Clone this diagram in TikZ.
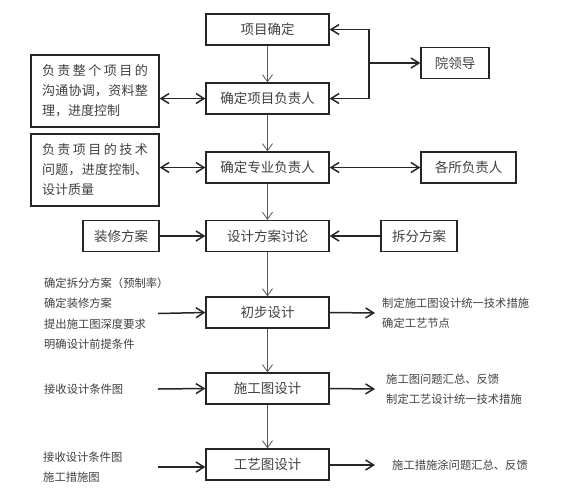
\documentclass[tikz,border=0pt]{standalone}
\usepackage{fontspec}
\newfontfamily\cjk{Noto Sans CJK SC}
\usetikzlibrary{arrows.meta}
\XeTeXlinebreaklocale "zh"
\XeTeXlinebreakskip=0pt plus 3pt

\begin{document}
\begin{tikzpicture}[
                x=1pt,y=-1pt,
                stepbox/.style={draw=black!85,line width=1.3pt,text=black!75,
                  font=\cjk\fontsize{13.5}{16}\selectfont,
                  minimum width=123pt,minimum height=31pt,inner sep=0pt},
                dutybox/.style={draw=black!85,line width=1.3pt,text=black!75,
                  font=\cjk\fontsize{13}{20}\selectfont,
                  text width=106pt,align=justify,
                  minimum height=72pt,inner xsep=11pt,inner ysep=0pt},
                note/.style={text=black!75,font=\cjk\fontsize{11.3}{20.3}\selectfont,
                  align=left,inner sep=0pt,anchor=west},
                flow/.style={-{Straight Barb[length=7pt,width=10pt]},draw=black!65,line width=0.8pt},
                link/.style={-{Straight Barb[length=8pt,width=10pt]},draw=black!85,line width=1.5pt},
                both/.style={{Straight Barb[length=8pt,width=10pt]}-{Straight Barb[length=8pt,width=10pt]},draw=black!85,line width=1.5pt}]

                    \useasboundingbox (0,0) rectangle (576,488);

                    % main column
                    \node[stepbox] (ProjectSet) at (267.5,29.5) {项目确定}; % 1
                    \node[stepbox] (ProjectLead) at (267.5,98.5) {确定项目负责人}; % 2
                    \node[stepbox] (SpecLead) at (267.5,167.5) {确定专业负责人}; % 3
                    \node[stepbox] (Discuss) at (267.5,236) {设计方案讨论}; % 4
                    \node[stepbox] (Prelim) at (267.5,312.5) {初步设计}; % 5
                    \node[stepbox] (Construct) at (267.5,388.5) {施工图设计}; % 6
                    \node[stepbox] (Craft) at (267.5,464.5) {工艺图设计}; % 7

                    \draw[flow] (ProjectSet) to (ProjectLead);
                    \draw[flow] (ProjectLead) to (SpecLead);
                    \draw[flow] (SpecLead) to (Discuss);
                    \draw[flow] (Discuss) to (Prelim);
                    \draw[flow] (Prelim) to (Construct);
                    \draw[flow] (Construct) to (Craft);

                    % left and right boxes
                    \node[dutybox] (DutyA) at (95,91) {负责整个项目的\linebreak 沟通协调，资料整\linebreak 理，进度控制};
                    \node[dutybox] (DutyB) at (95,170) {负责项目的技术\linebreak 问题，进度控制、\linebreak 设计质量};
                    \node[stepbox,minimum width=68pt] (Leader) at (455,63) {院领导};
                    \node[stepbox,minimum width=95pt] (Heads) at (468.5,167.5) {各所负责人};
                    \node[stepbox,minimum width=76pt] (Decor) at (121,236) {装修方案};
                    \node[stepbox,minimum width=76pt] (Split) at (419,236) {拆分方案};

                    \coordinate (Joint) at (369,63);
                    \draw[both] (ProjectSet.east) -- (Joint |- ProjectSet.east) -- (Joint |- ProjectLead.east) -- (ProjectLead.east);
                    \draw[link] (Joint) -- (Leader.west);
                    \draw[both] (DutyA.east |- ProjectLead.west) -- (ProjectLead.west);
                    \draw[both] (DutyB.east |- SpecLead.west) -- (SpecLead.west);
                    \draw[both] (SpecLead.east) -- (Heads.west);
                    \draw[link] (Decor.east) -- (Discuss.west);
                    \draw[link] (Split.west) -- (Discuss.east);

                    % inputs
                    \node[note] (InputA) at (44,313.5) {确定拆分方案（预制率）\\确定装修方案\\提出施工图深度要求\\明确设计前提条件};
                    \node[note] (InputB) at (44,389) {接收设计条件图};
                    \node[note] (InputC) at (43,467.5) {接收设计条件图\\施工措施图};
                    \coordinate (TailA) at (158,313.5);
                    \coordinate (TailB) at (158,389);
                    \coordinate (TailC) at (158,467);
                    \draw[link] (TailA) -- (Prelim.west);
                    \draw[link] (TailB) -- (Construct.west);
                    \draw[link] (TailC) -- (Craft.west |- TailC);

                    % outputs
                    \node[note,inner xsep=7pt] (OutA) at (375,313) {制定施工图设计统一技术措施\\确定工艺节点};
                    \node[note,inner xsep=11pt] (OutB) at (375,389) {施工图问题汇总、反馈\\制定工艺设计统一技术措施};
                    \node[note,inner xsep=17pt] (OutC) at (375,465) {施工措施涂问题汇总、反馈};
                    \draw[link] (Prelim.east) -- (OutA.west);
                    \draw[link] (Construct.east) -- (OutB.west);
                    \draw[link] (Craft.east |- OutC.west) -- (OutC.west);

                    \end{tikzpicture}
\end{document}
